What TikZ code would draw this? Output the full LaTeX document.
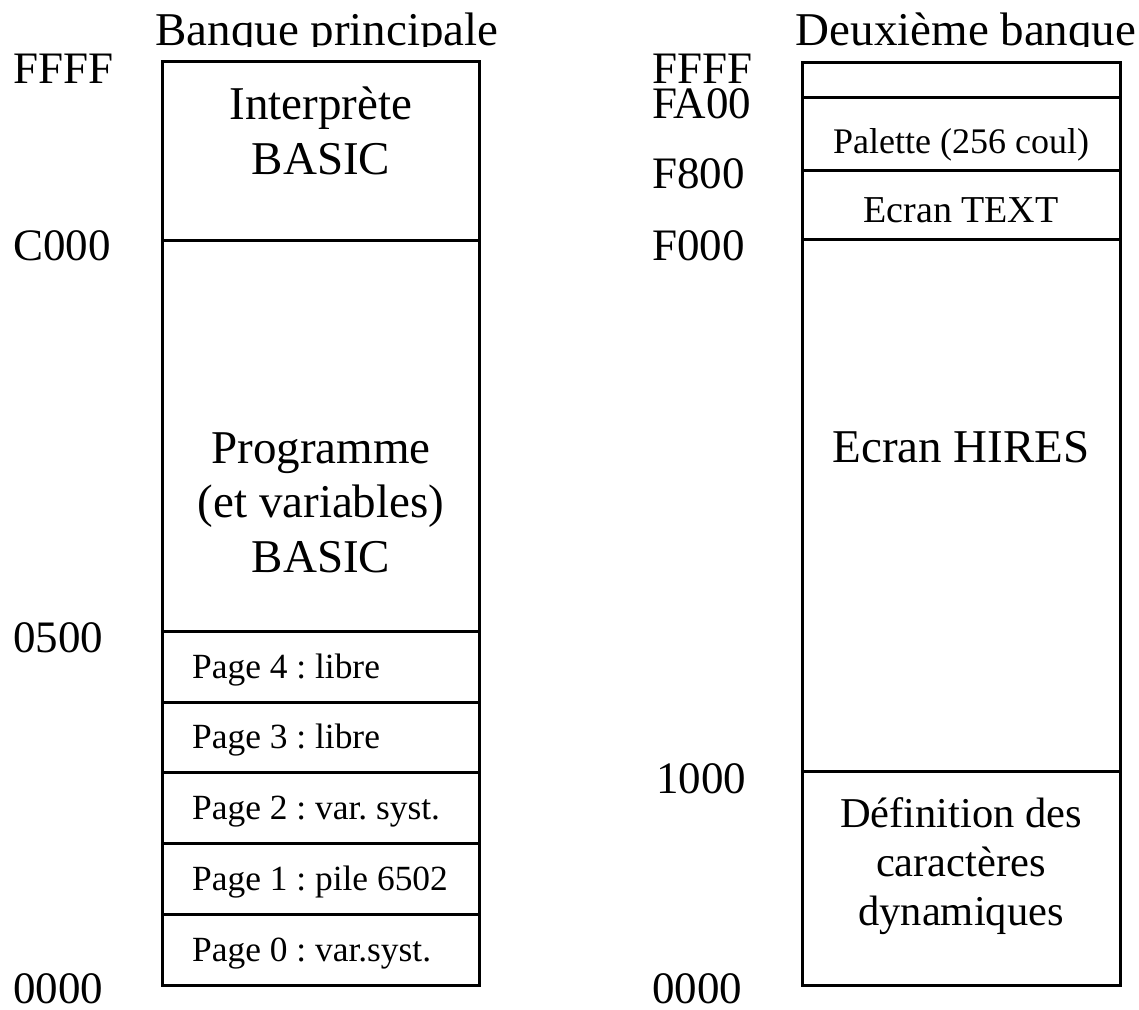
\documentclass[tikz,border=0pt]{standalone}
\usepackage{fontspec}
\setmainfont{Liberation Serif}
\begin{document}
\frenchspacing
\begin{tikzpicture}[x=1pt,y=-1pt,
  box/.style={line width=3pt},
  addr/.style={anchor=base west, inner sep=0pt, font=\fontsize{45}{50}\selectfont},
  big/.style={anchor=base, align=center, inner sep=0pt, font=\fontsize{47}{54.5}\selectfont},
  small/.style={anchor=base, inner sep=0pt, font=\fontsize{36}{41}\selectfont},
  pagetxt/.style={anchor=base west, inner sep=0pt, font=\fontsize{35.4}{40}\selectfont},
  head/.style={anchor=base, inner sep=0pt, font=\fontsize{47}{54}\selectfont}]
\useasboundingbox (0,0) rectangle (1139,1009);
% headings (clipped at the top edge as in the reference)
\begin{scope}
  \clip (0,0) rectangle (1139,46);
  \node[head] (h1) at (327,45) {Banque principale};
  \node[head] (h2) at (966,45) {Deuxième banque};
\end{scope}
% left bank
\draw[box] (162,61) rectangle (479,985);
\foreach \y in {240,631,702,772,843,914} \draw[box] (162,\y) -- (479,\y);
% right bank
\draw[box] (802,62) rectangle (1120,985);
\foreach \y in {97,170,239,771} \draw[box] (802,\y) -- (1120,\y);
% left addresses
\node[addr] (l1) at (13,83) {FFFF};
\node[addr] (l2) at (13,260) {C000};
\node[addr] (l3) at (13,652) {0500};
\node[addr] (l4) at (13,1003) {0000};
% right addresses
\node[addr] (r1) at (652,83) {FFFF};
\node[addr] (r2) at (652,118) {FA00};
\node[addr] (r3) at (652,188) {F800};
\node[addr] (r4) at (652,260) {F000};
\node[addr] (r5) at (656,793) {1000};
\node[addr] (r6) at (652,1003) {0000};
% left contents (anchor = baseline of the last line)
\node[big] (t1) at (321,174) {Interprète\\BASIC};
\node[big] (t2) at (321,572) {Programme\\(et variables)\\BASIC};
\node[pagetxt] (p4) at (192,678) {Page 4 : libre};
\node[pagetxt] (p3) at (192,748.5) {Page 3 : libre};
\node[pagetxt] (p2) at (192,819) {Page 2 : var. syst.};
\node[pagetxt] (p1) at (192,890) {Page 1 : pile 6502};
\node[pagetxt] (p0) at (192,961.5) {Page 0 : var.syst.};
% right contents
\node[small] (t5) at (961,153) {Palette (256 coul)};
\node[small, font=\fontsize{38}{43}\selectfont] (t6) at (961,222) {Ecran TEXT};
\node[big] (t3) at (961,462) {Ecran HIRES};
\node[big, font=\fontsize{42.5}{49}\selectfont] (t4) at (961,925) {Définition des\\caractères\\dynamiques};
\end{tikzpicture}
\end{document}
